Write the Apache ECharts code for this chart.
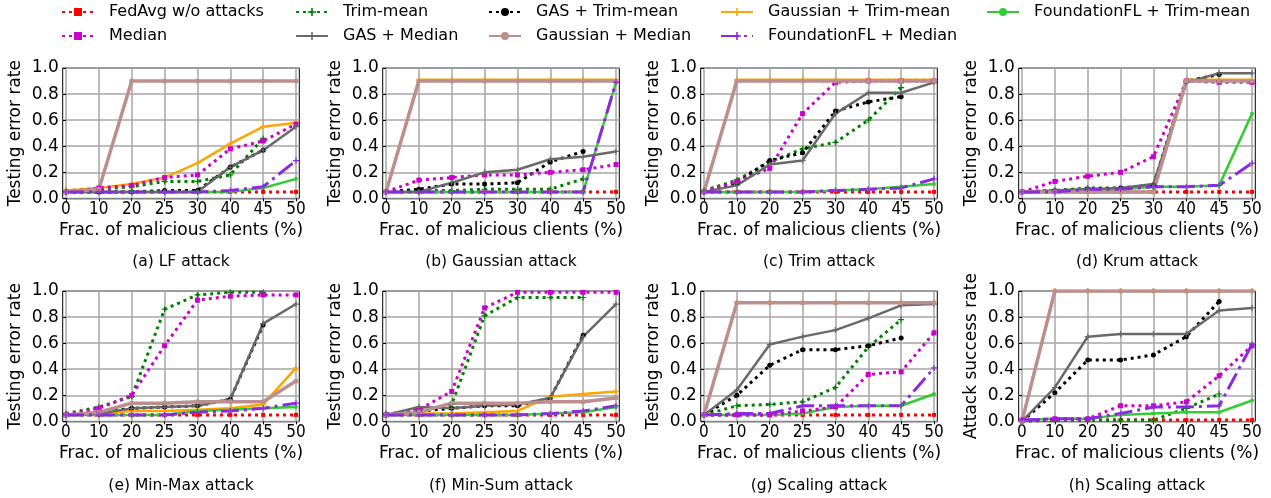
<!DOCTYPE html>
<html>
<head>
<meta charset="utf-8">
<script src="https://cdn.jsdelivr.net/npm/echarts@6/dist/echarts.min.js"></script>
<style>
  html, body { margin: 0; padding: 0; background: #fff; }
  #chart { width: 1271px; height: 498px; }
</style>
</head>
<body>
<div id="chart"></div>
<script>
// Fraction of malicious clients (%) on every x axis
const fractions = ['0', '10', '20', '25', '30', '40', '45', '50'];

// Plotting order (later ones are drawn on top)
const methods = [
  'FedAvg w/o attacks', 'Trim-mean', 'GAS + Trim-mean', 'Gaussian + Trim-mean',
  'FoundationFL + Trim-mean', 'Median', 'GAS + Median', 'Gaussian + Median',
  'FoundationFL + Median'
];

const N = null; // no result at this fraction

// One row per method, in the order of `methods`
const lfAttack = [
  [0.05, 0.05, 0.05, 0.05, 0.05, 0.05, 0.05, 0.05],
  [0.06, 0.07, 0.09, 0.13, 0.13, 0.18, 0.46, N],
  [0.05, 0.05, 0.05, 0.06, 0.06, 0.24, 0.37, N],
  [0.06, 0.08, 0.11, 0.16, 0.27, 0.42, 0.55, 0.58],
  [0.05, 0.05, 0.05, 0.05, 0.05, 0.05, 0.08, 0.15],
  [0.05, 0.08, 0.10, 0.16, 0.18, 0.38, 0.44, 0.57],
  [0.05, 0.05, 0.05, 0.05, 0.05, 0.24, 0.37, 0.55],
  [0.05, 0.07, 0.90, 0.90, 0.90, 0.90, 0.90, 0.90],
  [0.05, 0.05, 0.05, 0.05, 0.05, 0.06, 0.09, 0.29]
];
const gaussianAttack = [
  [0.05, 0.05, 0.05, 0.05, 0.05, 0.05, 0.05, 0.05],
  [0.05, 0.06, 0.06, 0.07, 0.07, 0.07, 0.15, N],
  [0.05, 0.07, 0.11, 0.11, 0.12, 0.28, 0.36, N],
  [0.05, 0.91, 0.91, 0.91, 0.91, 0.91, 0.91, 0.91],
  [0.05, 0.05, 0.05, 0.05, 0.05, 0.05, 0.05, 0.89],
  [0.05, 0.14, 0.16, 0.18, 0.18, 0.20, 0.22, 0.26],
  [0.05, 0.05, 0.12, 0.20, 0.22, 0.30, 0.32, 0.36],
  [0.05, 0.90, 0.90, 0.90, 0.90, 0.90, 0.90, 0.90],
  [0.05, 0.05, 0.05, 0.05, 0.05, 0.05, 0.05, 0.89]
];
const trimAttack = [
  [0.05, 0.05, 0.05, 0.05, 0.05, 0.05, 0.05, 0.05],
  [0.06, 0.14, 0.28, 0.38, 0.43, 0.60, 0.85, N],
  [0.05, 0.12, 0.29, 0.35, 0.67, 0.74, 0.78, N],
  [0.05, 0.91, 0.91, 0.91, 0.91, 0.91, 0.91, 0.91],
  [0.05, 0.05, 0.05, 0.05, 0.06, 0.07, 0.09, 0.11],
  [0.05, 0.13, 0.23, 0.65, 0.89, 0.90, 0.90, 0.90],
  [0.05, 0.10, 0.26, 0.29, 0.65, 0.81, 0.81, 0.89],
  [0.05, 0.90, 0.90, 0.90, 0.90, 0.90, 0.90, 0.90],
  [0.05, 0.05, 0.05, 0.05, 0.06, 0.07, 0.08, 0.15]
];
const krumAttack = [
  [0.05, 0.05, 0.05, 0.05, 0.05, 0.05, 0.05, 0.05],
  [0.05, 0.06, 0.08, 0.08, 0.10, 0.90, 0.90, N],
  [0.05, 0.06, 0.07, 0.08, 0.10, 0.90, 0.95, N],
  [0.05, 0.05, 0.05, 0.05, 0.05, 0.91, 0.91, 0.91],
  [0.05, 0.06, 0.07, 0.07, 0.09, 0.09, 0.10, 0.65],
  [0.05, 0.13, 0.17, 0.20, 0.32, 0.90, 0.89, 0.89],
  [0.05, 0.06, 0.07, 0.08, 0.11, 0.89, 0.96, 0.96],
  [0.05, 0.05, 0.05, 0.05, 0.05, 0.90, 0.90, 0.90],
  [0.05, 0.05, 0.07, 0.07, 0.09, 0.09, 0.10, 0.27]
];
const minMaxAttack = [
  [0.05, 0.05, 0.05, 0.05, 0.05, 0.05, 0.05, 0.05],
  [0.06, 0.11, 0.19, 0.86, 0.97, 0.99, 0.99, N],
  [0.05, 0.07, 0.10, 0.11, 0.12, 0.17, 0.74, N],
  [0.05, 0.06, 0.08, 0.08, 0.09, 0.10, 0.13, 0.41],
  [0.05, 0.05, 0.05, 0.05, 0.08, 0.09, 0.10, 0.11],
  [0.05, 0.10, 0.20, 0.58, 0.93, 0.96, 0.97, 0.97],
  [0.05, 0.06, 0.10, 0.11, 0.12, 0.17, 0.75, 0.90],
  [0.05, 0.07, 0.14, 0.14, 0.15, 0.15, 0.15, 0.31],
  [0.05, 0.05, 0.05, 0.05, 0.07, 0.08, 0.10, 0.14]
];
const minSumAttack = [
  [0.05, 0.05, 0.05, 0.05, 0.05, 0.05, 0.05, 0.05],
  [0.06, 0.07, 0.13, 0.81, 0.95, 0.95, 0.95, N],
  [0.05, 0.08, 0.10, 0.12, 0.12, 0.18, 0.66, N],
  [0.05, 0.06, 0.06, 0.07, 0.08, 0.19, 0.21, 0.23],
  [0.05, 0.05, 0.05, 0.05, 0.05, 0.06, 0.07, 0.11],
  [0.05, 0.09, 0.23, 0.87, 0.99, 0.99, 0.99, 0.99],
  [0.05, 0.11, 0.10, 0.12, 0.13, 0.18, 0.65, 0.90],
  [0.05, 0.07, 0.14, 0.14, 0.14, 0.15, 0.15, 0.18],
  [0.05, 0.05, 0.05, 0.05, 0.05, 0.06, 0.08, 0.12]
];
const scalingError = [
  [0.05, 0.05, 0.05, 0.05, 0.05, 0.05, 0.05, 0.05],
  [0.05, 0.12, 0.13, 0.15, 0.26, 0.57, 0.78, N],
  [0.05, 0.20, 0.43, 0.55, 0.55, 0.58, 0.64, N],
  [0.05, 0.91, 0.91, 0.91, 0.91, 0.91, 0.91, 0.91],
  [0.05, 0.05, 0.05, 0.06, 0.11, 0.12, 0.12, 0.21],
  [0.05, 0.05, 0.05, 0.08, 0.11, 0.36, 0.38, 0.68],
  [0.05, 0.24, 0.59, 0.65, 0.70, 0.79, 0.89, 0.90],
  [0.05, 0.91, 0.91, 0.91, 0.91, 0.91, 0.91, 0.91],
  [0.05, 0.06, 0.06, 0.12, 0.12, 0.12, 0.12, 0.41]
];
const scalingSuccess = [
  [0.01, 0.01, 0.01, 0.01, 0.01, 0.01, 0.01, 0.01],
  [0.00, 0.01, 0.01, 0.01, 0.01, 0.10, 0.21, N],
  [0.00, 0.22, 0.47, 0.47, 0.51, 0.65, 0.92, N],
  [0.00, 1.00, 1.00, 1.00, 1.00, 1.00, 1.00, 1.00],
  [0.01, 0.02, 0.02, 0.05, 0.06, 0.07, 0.07, 0.16],
  [0.01, 0.02, 0.02, 0.12, 0.12, 0.15, 0.35, 0.58],
  [0.00, 0.26, 0.65, 0.67, 0.67, 0.67, 0.85, 0.87],
  [0.00, 1.00, 1.00, 1.00, 1.00, 1.00, 1.00, 1.00],
  [0.01, 0.02, 0.02, 0.06, 0.11, 0.11, 0.12, 0.59]
];

const panelData = [lfAttack, gaussianAttack, trimAttack, krumAttack,
                   minMaxAttack, minSumAttack, scalingError, scalingSuccess];
const captions = ['(a) LF attack', '(b) Gaussian attack', '(c) Trim attack', '(d) Krum attack',
                  '(e) Min-Max attack', '(f) Min-Sum attack', '(g) Scaling attack', '(h) Scaling attack'];
const yNames = ['Testing error rate', 'Testing error rate', 'Testing error rate', 'Testing error rate',
                'Testing error rate', 'Testing error rate', 'Testing error rate', 'Attack success rate'];
const yTicks = [0, 0.2, 0.4, 0.6, 0.8, 1.0];

// Legend columns (two rows)
const legendColumns = [
  ['FedAvg w/o attacks', 'Median'],
  ['Trim-mean', 'GAS + Median'],
  ['GAS + Trim-mean', 'Gaussian + Median'],
  ['Gaussian + Trim-mean', 'FoundationFL + Median'],
  ['FoundationFL + Trim-mean']
];
const legendLeft = [61, 295, 488, 720, 986];

const FONT = 'DejaVu Sans';
const FONT_NARROW = 'DejaVu Sans Condensed';
const PLUS = 'path://M2,0H3V2H5V3H3V5H2V3H0V2H2Z';
const DOT = [3, 4];
const DASHDOT = [18, 5, 3, 5];

const styles = {
  'FedAvg w/o attacks':       { color: '#ff0000', type: DOT, width: 3, symbol: 'rect', size: 4 },
  'Trim-mean':                { color: '#008000', type: DOT, width: 3, symbol: PLUS, size: 6 },
  'GAS + Trim-mean':          { color: '#000000', type: DOT, width: 3, symbol: 'circle', size: 5 },
  'Gaussian + Trim-mean':     { color: '#ffa500', type: 'solid', width: 2.5, symbol: PLUS, size: 6 },
  'FoundationFL + Trim-mean': { color: '#32cd32', type: 'solid', width: 2.5, symbol: 'circle', size: 4 },
  'Median':                   { color: '#cc00cc', type: DOT, width: 3, symbol: 'rect', size: 5 },
  'GAS + Median':             { color: '#696969', type: 'solid', width: 2.5, symbol: PLUS, size: 6 },
  'Gaussian + Median':        { color: '#bc8f8f', type: 'solid', width: 3.5, symbol: 'circle', size: 5 },
  'FoundationFL + Median':    { color: '#8a2be2', type: DASHDOT, width: 3, symbol: PLUS, size: 6 }
};

// Panel layout
const colLeft = [62.7, 382.7, 700.7, 1018.7];
const rowTop = [68, 291];
const plotW = 236.6, plotH = 130.4;
const captionY = [262, 486];

const grids = [], xAxes = [], yAxes = [], series = [], graphics = [];
const xIdx = fractions.map((_, i) => i);

panelData.forEach((rows, p) => {
  const r = Math.floor(p / 4), c = p % 4;
  grids.push({
    left: colLeft[c], top: rowTop[r], width: plotW, height: plotH,
    show: true, borderColor: '#000', borderWidth: 1, backgroundColor: 'transparent'
  });
  xAxes.push({
    gridIndex: p, type: 'value', min: -0.1, max: 7.1,
    name: 'Frac. of malicious clients (%)', nameLocation: 'middle', nameGap: 24,
    nameTextStyle: { fontFamily: FONT, fontSize: 17, color: '#000' },
    axisLine: { show: false },
    axisTick: { show: true, length: 3, customValues: xIdx, lineStyle: { color: '#000' } },
    axisLabel: {
      customValues: xIdx, margin: 3, fontFamily: FONT_NARROW, fontSize: 17, color: '#000',
      formatter: v => fractions[Math.round(v)]
    },
    splitLine: { show: true, lineStyle: { color: '#a6a6a6', width: 1.5 } }
  });
  yAxes.push({
    gridIndex: p, type: 'value', min: 0, max: 1,
    name: yNames[p], nameLocation: 'middle', nameGap: 39,
    nameTextStyle: { fontFamily: FONT, fontSize: 17, color: '#000' },
    axisLine: { show: false },
    axisTick: { show: true, length: 3, customValues: yTicks, lineStyle: { color: '#000' } },
    axisLabel: {
      customValues: yTicks, margin: 4, fontFamily: FONT, fontSize: 17, color: '#000',
      formatter: v => v.toFixed(1)
    },
    splitLine: { show: true, lineStyle: { color: '#a6a6a6', width: 1.5 } }
  });
  rows.forEach((vals, m) => {
    const name = methods[m];
    const s = styles[name];
    series.push({
      type: 'line', name, xAxisIndex: p, yAxisIndex: p,
      data: vals.map((v, i) => [i, v]).filter(d => d[1] !== null),
      symbol: s.symbol, symbolSize: s.size, showSymbol: true,
      itemStyle: { color: s.color },
      lineStyle: { color: s.color, width: s.width, type: s.type, cap: 'butt' },
      emphasis: { disabled: true },
      animation: false
    });
  });
  graphics.push({
    type: 'text', x: colLeft[c] + plotW / 2, y: captionY[r],
    style: {
      text: captions[p], fill: '#000', font: '15.5px "' + FONT + '"',
      textAlign: 'center', textVerticalAlign: 'middle'
    }
  });
});

const legends = legendColumns.map((names, k) => ({
  data: names, orient: 'vertical', left: legendLeft[k], top: 3, padding: 0,
  itemWidth: 32, itemHeight: 10, itemGap: 6, selectedMode: false,
  textStyle: { fontFamily: FONT, fontSize: 16, color: '#000', lineHeight: 18, padding: [0, 0, 0, 10] }
}));

const chart = echarts.init(document.getElementById('chart'), null, { renderer: 'canvas' });
chart.setOption({
  backgroundColor: '#fff',
  animation: false,
  legend: legends,
  grid: grids,
  xAxis: xAxes,
  yAxis: yAxes,
  series,
  graphic: graphics
});
</script>
</body>
</html>
